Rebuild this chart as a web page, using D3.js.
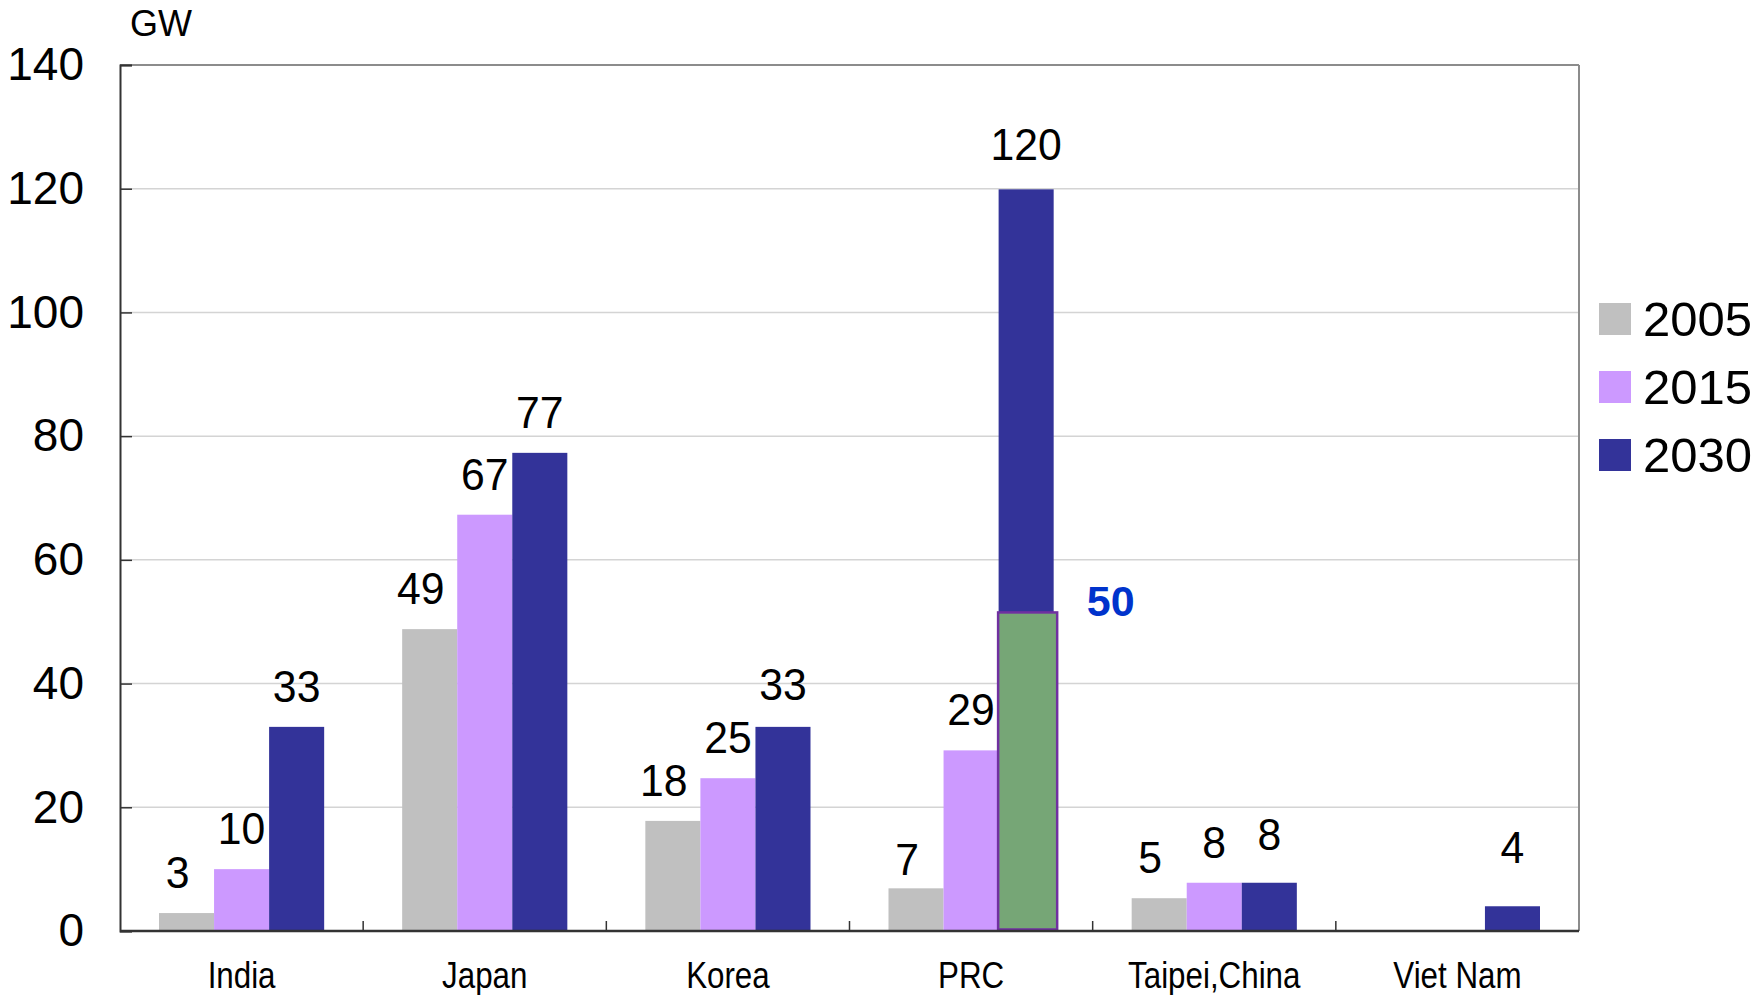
<!DOCTYPE html>
<html>
<head>
<meta charset="utf-8">
<script src="https://cdn.jsdelivr.net/npm/d3@7"></script>
<style>
  html, body { margin: 0; padding: 0; background: #fff; }
  svg { display: block; }
  text { font-family: "Liberation Sans", Arial, sans-serif; }
</style>
</head>
<body>
<svg id="chart" width="1758" height="995"></svg>
<script>
// ---- data ----
const categories = ["India", "Japan", "Korea", "PRC", "Taipei,China", "Viet Nam"];
const seriesNames = ["2005", "2015", "2030"];
const values2005 = [3, 49, 18, 7, 5, null];
const values2015 = [10, 67, 25, 29, 8, null];
const values2030 = [33, 77, 33, 120, 8, 4];
const barValues2005 = [2.9, 48.8, 17.8, 6.9, 5.3, null];
const barValues2015 = [10, 67.3, 24.7, 29.2, 7.8, null];
const barValues2030 = [33, 77.3, 33, 119.9, 7.8, 4];
const yTicks = [0, 20, 40, 60, 80, 100, 120, 140];
const highlightCategory = "PRC";
const highlightValue = 51.5;
const highlightLabel = "50";
const unitLabel = "GW";
const colors = ["#C0C0C0", "#CC99FF", "#333399"];
// small vertical nudges of individual data labels as placed in the original
const labelNudge2005 = [0, 0, 0, 12, 0, 0];
const labelNudge2015 = [0, 0, 0, 0, 0, 0];
const labelNudge2030 = [0, 0, -2, -4, -8, -18];

const series = [
  { name: seriesNames[0], labels: values2005, bars: barValues2005, nudge: labelNudge2005, color: colors[0], dx: -9 },
  { name: seriesNames[1], labels: values2015, bars: barValues2015, nudge: labelNudge2015, color: colors[1], dx: 0 },
  { name: seriesNames[2], labels: values2030, bars: barValues2030, nudge: labelNudge2030, color: colors[2], dx: 0 }
];

// ---- layout ----
const svg = d3.select("#chart");
const plot = { left: 120, right: 1579, top: 65, bottom: 931 };

const x0 = d3.scaleBand().domain(categories).range([plot.left, plot.right]).padding(0);
const groupPad = 39;
const x1 = d3.scaleBand().domain(seriesNames).range([groupPad, x0.bandwidth() - groupPad]).padding(0);
const y = d3.scaleLinear().domain([0, 140]).range([plot.bottom, plot.top]);

// gridlines
svg.append("g").selectAll("line").data(yTicks.filter(d => d > 0 && d < 140)).join("line")
  .attr("x1", plot.left).attr("x2", plot.right)
  .attr("y1", d => y(d)).attr("y2", d => y(d))
  .attr("stroke", "#d4d4d4").attr("stroke-width", 1.5);

// top & right border
svg.append("line").attr("x1", plot.left).attr("x2", plot.right).attr("y1", y(140)).attr("y2", y(140))
  .attr("stroke", "#8c8c8c").attr("stroke-width", 2);
svg.append("line").attr("x1", plot.right).attr("x2", plot.right).attr("y1", plot.top).attr("y2", plot.bottom)
  .attr("stroke", "#8c8c8c").attr("stroke-width", 2);

// bars
const gBars = svg.append("g");
series.forEach(s => {
  gBars.append("g").selectAll("rect")
    .data(categories.map((c, i) => ({ c, v: s.bars[i] })).filter(d => d.v != null))
    .join("rect")
    .attr("x", d => x0(d.c) + x1(s.name))
    .attr("width", x1.bandwidth())
    .attr("y", d => y(d.v))
    .attr("height", d => y(0) - y(d.v))
    .attr("fill", s.color);
});

// highlight overlay on PRC 2030
const hx = x0(highlightCategory) + x1("2030");
svg.append("rect")
  .attr("x", hx - 0.5)
  .attr("width", x1.bandwidth() + 4)
  .attr("y", y(highlightValue))
  .attr("height", y(0) - y(highlightValue) - 1.5)
  .attr("fill", "#76A676")
  .attr("stroke", "#7030A0")
  .attr("stroke-width", 2.5);

svg.append("text")
  .attr("x", hx + x1.bandwidth() + 57)
  .attr("y", y(highlightValue) - 8)
  .attr("text-anchor", "middle")
  .attr("dominant-baseline", "middle")
  .attr("font-size", 43)
  .attr("font-weight", "bold")
  .attr("fill", "#0033CC")
  .text(highlightLabel);

// axes
const yAxis = d3.axisLeft(y).tickValues(yTicks).tickSize(-12).tickPadding(36).tickFormat(d3.format("d"));
const gy = svg.append("g").attr("transform", `translate(${plot.left},0)`).call(yAxis);
gy.select(".domain").attr("stroke", "#333").attr("stroke-width", 2);
gy.selectAll(".tick line").attr("stroke", "#333").attr("stroke-width", 1.5);
gy.selectAll(".tick text").attr("font-size", 46).attr("fill", "#000")
  .attr("font-family", '"Liberation Sans", Arial, sans-serif');

// x axis baseline and category boundary ticks
svg.append("line").attr("x1", plot.left).attr("x2", plot.right).attr("y1", y(0)).attr("y2", y(0))
  .attr("stroke", "#333").attr("stroke-width", 2.5);
svg.append("g").selectAll("line").data(categories.slice(1)).join("line")
  .attr("x1", d => x0(d)).attr("x2", d => x0(d))
  .attr("y1", y(0)).attr("y2", y(0) - 10)
  .attr("stroke", "#333").attr("stroke-width", 1.5);

// category labels (condensed)
svg.append("g").selectAll("text").data(categories).join("text")
  .attr("transform", d => `translate(${x0(d) + x0.bandwidth() / 2},988) scale(0.87,1)`)
  .attr("text-anchor", "middle")
  .attr("font-size", 36)
  .attr("fill", "#000")
  .text(d => d);

// data labels
series.forEach(s => {
  svg.append("g").selectAll("text")
    .data(categories.map((c, i) => ({ c, v: s.bars[i], t: s.labels[i], n: s.nudge[i] })).filter(d => d.v != null))
    .join("text")
    .attr("transform", d => `translate(${x0(d.c) + x1(s.name) + x1.bandwidth() / 2 + s.dx},${y(d.v) - 25 + d.n}) scale(0.95,1)`)
    .attr("text-anchor", "middle")
    .attr("font-size", 45)
    .attr("fill", "#000")
    .text(d => d.t);
});

// unit label
svg.append("text").attr("x", 130).attr("y", 36).attr("font-size", 36).attr("fill", "#000").text(unitLabel);

// legend
const legend = svg.append("g").attr("transform", "translate(1599,303)");
series.forEach((s, i) => {
  const g = legend.append("g").attr("transform", `translate(0,${i * 68})`);
  g.append("rect").attr("width", 32).attr("height", 32).attr("fill", s.color);
  g.append("text").attr("x", 44).attr("y", 16).attr("dominant-baseline", "central")
    .attr("font-size", 49).attr("fill", "#000").text(s.name);
});
</script>
</body>
</html>
